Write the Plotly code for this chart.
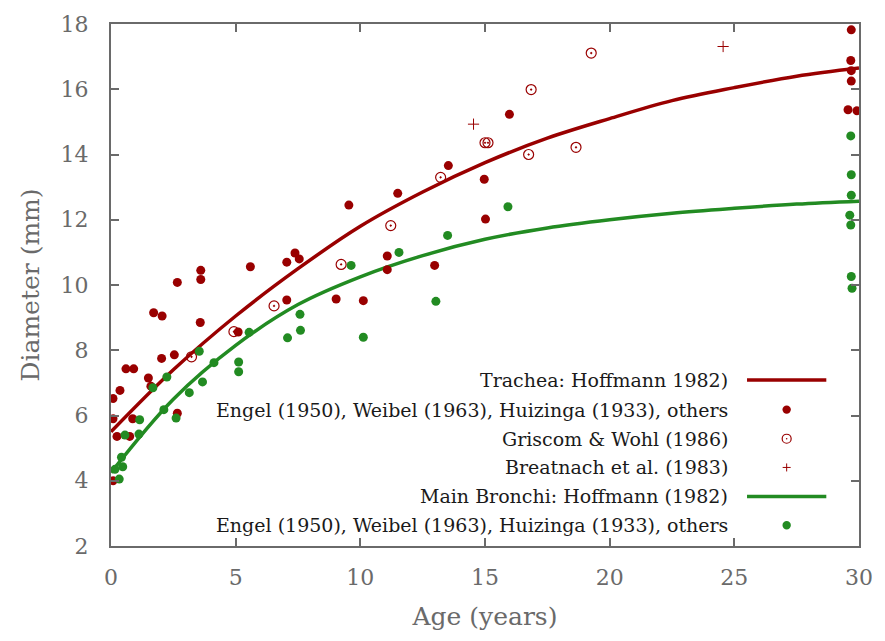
import plotly.graph_objects as go

# ---------------- data ----------------
curve_age = [0, 2.5, 5, 7.5, 10, 12.5, 15, 17.5, 20, 22.5, 25, 27.5, 30]
trachea_fit = [5.5, 7.4, 9.05, 10.5, 11.8, 12.85, 13.75, 14.5, 15.1, 15.65, 16.05, 16.4, 16.65]
bronchi_fit = [4.25, 6.5, 8.15, 9.4, 10.25, 10.9, 11.4, 11.75, 12.0, 12.2, 12.35, 12.48, 12.57]

trachea_age = [0.08, 0.08, 0.08, 0.24, 0.36, 0.6, 0.91, 0.75, 0.87, 1.5, 1.6, 1.71, 2.05, 2.03,
               2.54, 2.66, 2.66, 3.6, 3.6, 3.58, 5.1, 5.59, 7.05, 7.38, 7.55, 7.05, 9.03, 9.54,
               10.12, 11.08, 11.08, 11.5, 12.98, 13.53, 14.97, 15.02, 15.98,
               29.69, 29.67, 29.69, 29.69, 29.56, 29.92]
trachea_diam = [6.52, 5.9, 4.0, 5.36, 6.77, 7.43, 7.43, 5.36, 5.9, 7.15, 6.9, 9.15, 9.05, 7.75,
                7.86, 10.08, 6.07, 10.45, 10.17, 8.85, 8.56, 10.56, 10.7, 10.98, 10.8, 9.54, 9.57, 12.45,
                9.52, 10.89, 10.47, 12.81, 10.6, 13.66, 13.24, 12.02, 15.23,
                17.82, 16.88, 16.57, 16.25, 15.37, 15.34]

griscom_age = [3.23, 4.93, 6.54, 9.23, 11.22, 13.22, 15.0, 15.12, 16.75, 16.85, 18.65, 19.26]
griscom_diam = [7.8, 8.57, 9.36, 10.63, 11.82, 13.3, 14.36, 14.36, 14.0, 15.99, 14.22, 17.11]

breatnach_age = [14.54, 24.55]
breatnach_diam = [14.93, 17.31]

bronchi_age = [0.16, 0.33, 0.42, 0.47, 0.56, 1.12, 1.15, 1.68, 2.12, 2.24, 2.61, 3.14, 3.54, 3.67,
               4.13, 5.12, 5.12, 5.54, 7.08, 7.58, 7.6, 9.63, 10.12, 11.55, 13.03, 13.5, 15.92,
               29.67, 29.69, 29.69, 29.63, 29.67, 29.69, 29.72]
bronchi_diam = [4.35, 4.05, 4.72, 4.43, 5.4, 5.43, 5.87, 6.85, 6.18, 7.18, 5.92, 6.7, 7.97, 7.03,
                7.62, 7.64, 7.34, 8.55, 8.38, 9.1, 8.61, 10.6, 8.4, 11.0, 9.5, 11.52, 12.4,
                14.57, 13.38, 12.75, 12.14, 11.84, 10.26, 9.9]

legend_labels = [
    "Trachea: Hoffmann 1982)",
    "Engel (1950), Weibel (1963), Huizinga (1933), others",
    "Griscom &amp; Wohl (1986)",
    "Breatnach et al. (1983)",
    "Main Bronchi: Hoffmann (1982)",
    "Engel (1950), Weibel (1963), Huizinga (1933), others",
]

x_ticks = [0, 5, 10, 15, 20, 25, 30]
y_ticks = [2, 4, 6, 8, 10, 12, 14, 16, 18]

# ---------------- styling ----------------
RED = "#990000"
GREEN = "#228b22"
AXIS = "#6a6a6a"
FONT = "DejaVu Serif"

fig = go.Figure()

fig.add_trace(go.Scatter(x=curve_age, y=trachea_fit, mode="lines", line_shape="spline",
                         line=dict(color=RED, width=3.5), showlegend=False))
fig.add_trace(go.Scatter(x=curve_age, y=bronchi_fit, mode="lines", line_shape="spline",
                         line=dict(color=GREEN, width=3.5), showlegend=False))
fig.add_trace(go.Scatter(x=trachea_age, y=trachea_diam, mode="markers",
                         marker=dict(color=RED, size=9, line=dict(width=0)), showlegend=False))
fig.add_trace(go.Scatter(x=griscom_age, y=griscom_diam, mode="markers",
                         marker=dict(symbol="circle-open-dot", color=RED, size=10,
                                     line=dict(width=1.2, color=RED)), showlegend=False))
fig.add_trace(go.Scatter(x=breatnach_age, y=breatnach_diam, mode="markers",
                         marker=dict(symbol="cross-thin-open", color=RED, size=8,
                                     line=dict(width=1, color=RED)), showlegend=False))
fig.add_trace(go.Scatter(x=bronchi_age, y=bronchi_diam, mode="markers",
                         marker=dict(color=GREEN, size=9, line=dict(width=0)), showlegend=False))

# ---------------- custom legend (text left, key right) ----------------
row_y = [0.3182, 0.2613, 0.2055, 0.1505, 0.0949, 0.0398]
text_x = 0.8278
key_x = 0.9033
line_x0, line_x1 = 0.8503, 0.9563

shapes = []
annotations = []
for lab, yy in zip(legend_labels, row_y):
    annotations.append(dict(text=lab, x=text_x, y=yy, xref="paper", yref="paper",
                            xanchor="right", yanchor="middle", showarrow=False,
                            font=dict(family=FONT, size=19, color="#1a1a1a")))

def line_key(yy, color):
    return dict(type="line", xref="paper", yref="paper", x0=line_x0, x1=line_x1,
                y0=yy, y1=yy, line=dict(color=color, width=3.5))

def dot_key(yy, color, r, fill=True, width=0):
    return dict(type="circle", xref="paper", yref="paper", xsizemode="pixel", ysizemode="pixel",
                xanchor=key_x, yanchor=yy, x0=-r, x1=r, y0=-r, y1=r,
                fillcolor=color if fill else "rgba(0,0,0,0)",
                line=dict(color=color, width=width))

shapes.append(line_key(row_y[0], RED))
shapes.append(dot_key(row_y[1], RED, 4.2))
shapes.append(dot_key(row_y[2], RED, 4.5, fill=False, width=1.2))
shapes.append(dot_key(row_y[2], RED, 0.8))
for (a, b, c, d) in [(-4, 4, 0, 0), (0, 0, -4, 4)]:
    shapes.append(dict(type="line", xref="paper", yref="paper", xsizemode="pixel",
                       ysizemode="pixel", xanchor=key_x, yanchor=row_y[3],
                       x0=a, x1=b, y0=c, y1=d, line=dict(color=RED, width=1)))
shapes.append(line_key(row_y[4], GREEN))
shapes.append(dot_key(row_y[5], GREEN, 4.2))

axis_common = dict(showline=True, linecolor=AXIS, linewidth=2, mirror="allticks",
                   ticks="inside", ticklen=8, tickwidth=2, tickcolor=AXIS,
                   showgrid=False, zeroline=False,
                   tickfont=dict(family=FONT, size=22, color=AXIS))

fig.update_layout(
    width=885, height=641,
    margin=dict(l=111, r=19, t=19, b=95, pad=0),
    paper_bgcolor="white", plot_bgcolor="white",
    font=dict(family=FONT),
    xaxis=dict(range=[0, 30], tickvals=x_ticks, ticklabelstandoff=11,
               title=dict(text="Age (years)", font=dict(family=FONT, size=25, color=AXIS), standoff=18),
               **axis_common),
    yaxis=dict(range=[2, 18], tickvals=y_ticks, ticklabelstandoff=16,
               title=dict(text="Diameter (mm)", font=dict(family=FONT, size=25, color=AXIS), standoff=14),
               **axis_common),
    shapes=shapes,
    annotations=annotations,
    showlegend=False,
)

fig.write_html("out.html", config={"displayModeBar": False})
